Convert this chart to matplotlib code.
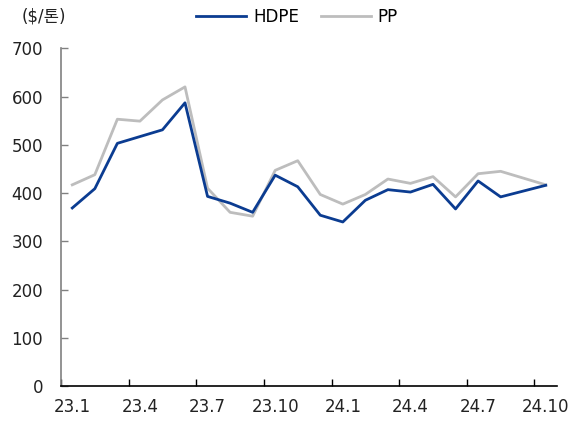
import numpy as np
import matplotlib
matplotlib.use("Agg")
import matplotlib.pyplot as plt

plt.rcParams['font.family'] = ['DejaVu Sans', 'Noto Sans CJK KR']

# monthly prices, 23.1 ~ 24.10
months = ['23.1', '23.2', '23.3', '23.4', '23.5', '23.6', '23.7', '23.8', '23.9', '23.10', '23.11',
          '23.12', '24.1', '24.2', '24.3', '24.4', '24.5', '24.6', '24.7', '24.8', '24.9', '24.10']
hdpe = [369, 409, 503, 517, 531, 587, 393, 379, 360, 437, 413, 354, 340, 385, 407, 402, 418, 367, 425, 392, 404, 416]
pp = [417, 438, 553, 549, 593, 620, 410, 360, 352, 447, 467, 397, 377, 397, 429, 420, 434, 392, 440, 445, 431, 417]
yticks = [0, 100, 200, 300, 400, 500, 600, 700]

fig = plt.figure(figsize=(5.75, 4.22), dpi=100)
ax = fig.add_axes([61 / 575, 36 / 422, 496 / 575, 337.7 / 422])

x = np.arange(len(months))
ax.plot(x, hdpe, color='#0B3C91', lw=2.0, label='HDPE', zorder=3)
ax.plot(x, pp, color='#BDBDBD', lw=2.0, label='PP', zorder=2)

ax.set_xlim(-0.5, len(months) - 0.5)
ax.set_ylim(0, 700)

# labels on categories, tick marks on category boundaries
ax.set_xticks(x[::3])
ax.set_xticklabels(months[::3], fontsize=12, color='#222222')
ax.set_xticks(np.arange(-0.5, len(months) - 1, 3), minor=True)
ax.tick_params(axis='x', which='major', length=0, pad=9)
ax.tick_params(axis='x', which='minor', direction='in', length=5, color='black', width=1)

ax.set_yticks(yticks)
ax.set_yticklabels([str(v) for v in yticks], fontsize=12, color='#222222')
ax.tick_params(axis='y', direction='in', length=5, color='#808080', width=1, pad=13)

for s in ['top', 'right']:
    ax.spines[s].set_visible(False)
ax.spines['left'].set_color('#808080')
ax.spines['left'].set_linewidth(1.2)
ax.spines['bottom'].set_color('black')
ax.spines['bottom'].set_linewidth(1.2)

fig.text(22 / 575, 1 - 17 / 422, '($/톤)', fontsize=12, va='center', ha='left', color='#222222')

fig.legend(loc='center', bbox_to_anchor=(297 / 575, 1 - 17 / 422), ncol=2, frameon=False,
           fontsize=12, handlelength=3.0, handletextpad=0.4, columnspacing=1.3)

plt.savefig("out.png", dpi=100)
